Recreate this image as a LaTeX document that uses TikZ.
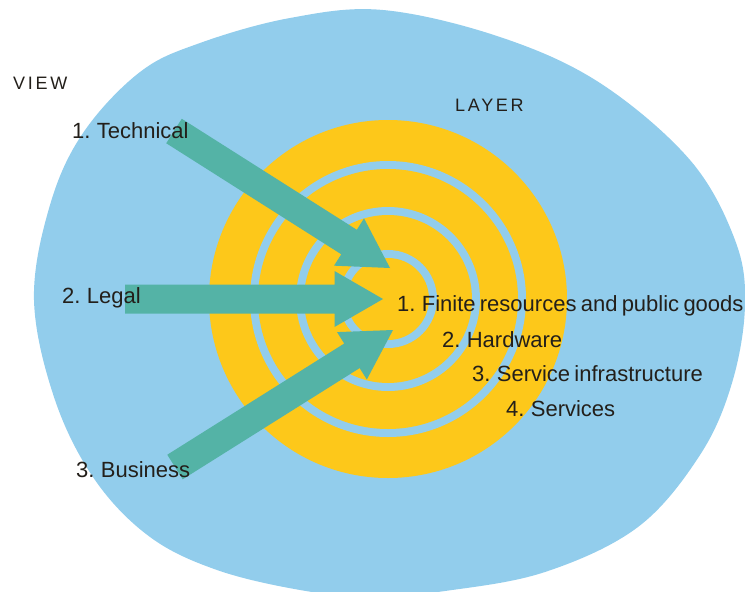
\documentclass[tikz,border=0pt]{standalone}
\usepackage{fontspec}
\setmainfont{Liberation Sans}[WordSpace=0.7]
\newfontfamily\spacedfont[LetterSpace=15]{Liberation Sans}
\usetikzlibrary{calc}
\definecolor{blobblue}{HTML}{92CDEC}
\definecolor{ringyellow}{HTML}{FDC81A}
\definecolor{arrowteal}{HTML}{54B3A6}
\definecolor{inkdark}{HTML}{231F1A}
\newcommand\drawfatarrow[2]{%
  \coordinate (#1base) at ($(#2)!48.5pt!(#1)$);
  \fill[arrowbody] ($(#1)!14.5pt!90:(#2)$) -- ($(#1base)!14.5pt!90:(#2)$) --
    ($(#1base)!28pt!90:(#2)$) -- (#2) -- ($(#1base)!28pt!-90:(#2)$) --
    ($(#1base)!14.5pt!-90:(#2)$) -- ($(#1)!14.5pt!-90:(#2)$) -- cycle;}
\begin{document}
\begin{tikzpicture}[x=1pt,y=-1pt,
  lbl/.style={anchor=base west, inner sep=0pt, text=inkdark, font=\fontsize{22}{24}\selectfont},
  hdr/.style={anchor=base west, inner sep=0pt, text=inkdark, font=\spacedfont\fontsize{18}{20}\selectfont},
  arrowbody/.style={fill=arrowteal},
  blob/.style={fill=blobblue},
  ring/.style={fill=ringyellow},
  gap/.style={fill=blobblue}]
\useasboundingbox (0,0) rectangle (745,592);
\begin{scope}
\clip (0,0) rectangle (745,592);
\fill[blob] plot[smooth cycle, tension=0.6] coordinates {
 (383,10) (500,37) (600,83) (690,160) (735,240) (745,305) (732,383) (700,455)
 (638,527) (545,572) (445,591) (370,597) (300,590) (217,570) (150,537) (95,480)
 (55,400) (34,300) (50,205) (83,133) (140,72) (200,43) (290,18)};
\end{scope}
\coordinate (c) at (388,299);
\fill[ring] (c) circle[radius=179pt];
\fill[gap]  (c) circle[radius=138pt];
\fill[ring] (c) circle[radius=130pt];
\fill[gap]  (c) circle[radius=92pt];
\fill[ring] (c) circle[radius=84pt];
\fill[gap]  (c) circle[radius=49pt];
\fill[ring] (c) circle[radius=41pt];
% arrows
\coordinate (techtail) at (174,131);
\coordinate (techtip) at (390,268);
\coordinate (legaltail) at (125,299);
\coordinate (legaltip) at (383,299);
\coordinate (bustail) at (175,467);
\coordinate (bustip) at (393,330);
\drawfatarrow{techtail}{techtip}
\drawfatarrow{legaltail}{legaltip}
\drawfatarrow{bustail}{bustip}
% labels
\node[hdr] (view) at (13,89) {VIEW};
\node[hdr] (layer) at (455,111) {LAYER};
\node[lbl] (tech) at (72,138) {1. Technical};
\node[lbl] (legal) at (62,303) {2. Legal};
\node[lbl] (bus) at (76,477) {3. Business};
\node[lbl] (l1) at (397,311) {1. Finite resources and public goods};
\node[lbl] (l2) at (442,347) {2. Hardware};
\node[lbl] (l3) at (472,381) {3. Service infrastructure};
\node[lbl] (l4) at (506,416) {4. Services};
\end{tikzpicture}
\end{document}
